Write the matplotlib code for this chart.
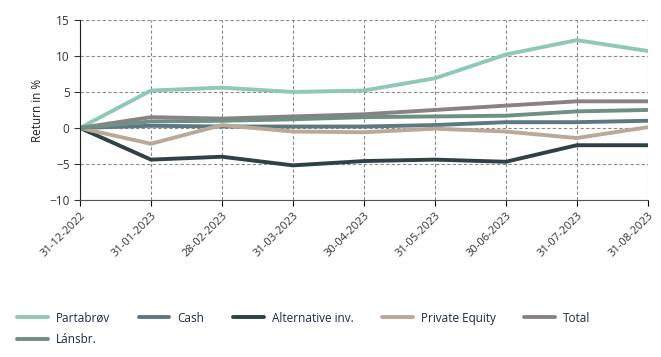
import matplotlib
matplotlib.use("Agg")
import matplotlib.pyplot as plt

dates = ["31-12-2022", "31-01-2023", "28-02-2023", "31-03-2023", "30-04-2023",
         "31-05-2023", "30-06-2023", "31-07-2023", "31-08-2023"]
partabrov = [0, 5.2, 5.6, 5.0, 5.2, 6.9, 10.2, 12.2, 10.7]
cash = [0, 0.3, 0.2, 0.2, 0.2, 0.4, 0.8, 0.8, 1.0]
alternative = [0, -4.4, -4.0, -5.2, -4.6, -4.4, -4.7, -2.4, -2.4]
private_equity = [0, -2.2, 0.4, -0.5, -0.6, -0.1, -0.5, -1.4, 0.1]
total = [0, 1.5, 1.3, 1.6, 1.9, 2.5, 3.1, 3.7, 3.7]
lansbr = [0, 0.9, 1.0, 1.2, 1.5, 1.6, 1.7, 2.3, 2.5]
yticks = [-10, -5, 0, 5, 10, 15]

plt.rcParams['font.family'] = ['Open Sans', 'DejaVu Sans']

fig = plt.figure(figsize=(6.61, 3.57), dpi=100)
ax = fig.add_axes([0.121, 0.44, 0.859, 0.504])

x = list(range(len(dates)))
series = [
    ("Partabrøv", partabrov, "#8fc9b5"),
    ("Cash", cash, "#5c7880"),
    ("Alternative inv.", alternative, "#2f4144"),
    ("Private Equity", private_equity, "#bca899"),
    ("Total", total, "#8a8280"),
    ("Lánsbr.", lansbr, "#6e8f85"),
]
lines = {}
for name, vals, col in series:
    ln, = ax.plot(x, vals, color=col, lw=2.8, label=name, solid_capstyle='round')
    lines[name] = ln

ax.set_xlim(0, len(dates) - 1)
ax.set_ylim(-10, 15)
ax.set_yticks(yticks)
ax.set_xticks(x)
ax.set_xticklabels(dates, rotation=45, ha='right', rotation_mode='anchor', fontsize=8, color='#333333')
ax.tick_params(axis='y', labelsize=8.5, colors='#333333', length=4)
ax.tick_params(axis='x', length=4)
ax.set_ylabel("Return in %", fontsize=8.5, color='#222222')
ax.grid(True, linestyle=(0, (3, 2)), color='#8a8a8a', lw=0.8)
ax.set_axisbelow(True)
for s in ['top', 'right']:
    ax.spines[s].set_visible(False)
ax.spines['left'].set_color('#222222')
ax.spines['bottom'].set_color('#555555')

order = ["Partabrøv", "Lánsbr.", "Cash", "Alternative inv.", "Private Equity", "Total"]
leg = fig.legend([lines[n] for n in order], order, loc='lower left',
                 bbox_to_anchor=(0.01, 0.0), ncol=5, frameon=False,
                 fontsize=8.5, handlelength=2.6, columnspacing=2.4, handletextpad=0.7,
                 labelspacing=0.75)
for t in leg.get_texts():
    t.set_color('#1f2a44')

fig.savefig("out.png", dpi=100)
